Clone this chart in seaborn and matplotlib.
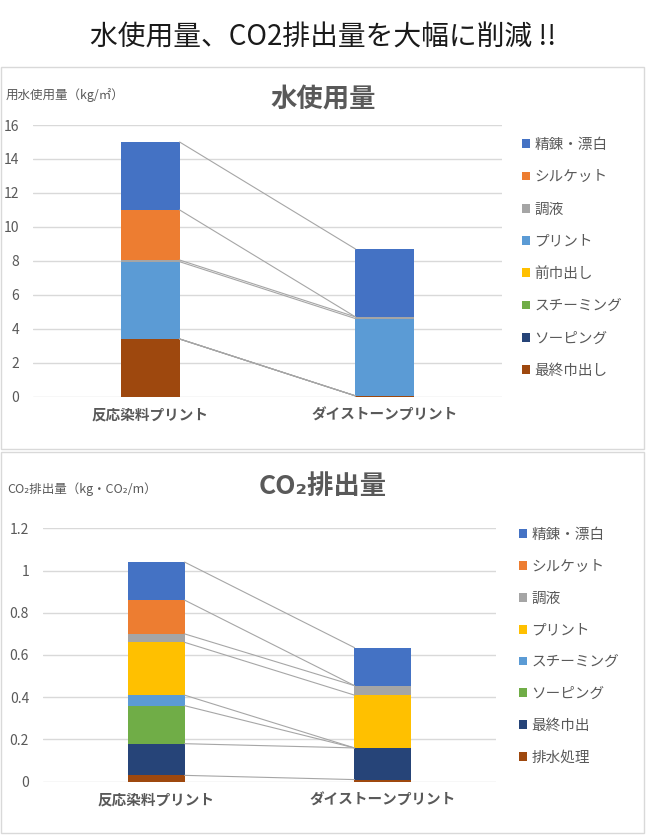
import numpy as np
import matplotlib
matplotlib.use("Agg")
import matplotlib.pyplot as plt
from matplotlib.patches import Rectangle, Patch
import seaborn as sns

# --- data (stack order: bottom -> top) ---
categories = ['反応染料プリント', 'ダイストーンプリント']

water_steps = ['最終巾出し', 'ソーピング', 'スチーミング', '前巾出し', 'プリント', '調液', 'シルケット', '精錬・漂白']
water_reactive = [3.4, 0, 0, 0, 4.55, 0.1, 2.95, 4.0]
water_dystone = [0.05, 0, 0, 0, 4.55, 0.1, 0, 4.0]
water_colors = ['#9e480e', '#264478', '#70ad47', '#ffc000', '#5b9bd5', '#a5a5a5', '#ed7d31', '#4472c4']

co2_steps = ['排水処理', '最終巾出', 'ソーピング', 'スチーミング', 'プリント', '調液', 'シルケット', '精錬・漂白']
co2_reactive = [0.03, 0.15, 0.18, 0.05, 0.25, 0.04, 0.16, 0.18]
co2_dystone = [0.01, 0.15, 0, 0, 0.25, 0.045, 0, 0.18]
co2_colors = ['#9e480e', '#264478', '#70ad47', '#5b9bd5', '#ffc000', '#a5a5a5', '#ed7d31', '#4472c4']

W, H = 646, 835
TXT = '#595959'

sns.set_theme(style='white')
plt.rcParams['font.family'] = ['Noto Sans CJK JP', 'DejaVu Sans']


def px(x, y):
    # pixel position (from top-left) -> figure fraction
    return x / W, 1 - y / H


def stacked(ax, steps, left, right, colors, yticks, ylim):
    cl = np.cumsum(left)
    cr = np.cumsum(right)
    # draw the cumulative layers top-down so lower layers sit in front
    for i in reversed(range(len(steps))):
        sns.barplot(x=categories, y=[cl[i], cr[i]], color=colors[i], width=0.25,
                    saturation=1, linewidth=0, ax=ax)
    # series lines between the two stacks
    for i in range(len(steps)):
        ax.plot([0.125, 0.875], [cl[i], cr[i]], color='#a6a6a6', lw=0.8, zorder=1)
    ax.set_xlim(-0.5, 1.5)
    ax.set_ylim(*ylim)
    ax.set_yticks(yticks)
    ax.set_yticklabels([f"{v:g}" for v in yticks])
    ax.set_axisbelow(True)
    ax.yaxis.grid(True, color='#d9d9d9', lw=1)
    for s in ax.spines.values():
        s.set_visible(False)
    ax.set_xlabel('')
    ax.set_ylabel('')
    ax.tick_params(axis='y', length=0, pad=10, labelsize=10, labelcolor=TXT)
    ax.tick_params(axis='x', length=0, pad=7, labelsize=10.5, labelcolor=TXT)
    for t in ax.get_xticklabels():
        t.set_fontweight('bold')


def legend(ax, steps, colors, x, y, spacing):
    handles = [Patch(facecolor=c, edgecolor='none') for c in colors[::-1]]
    leg = ax.legend(handles, steps[::-1], loc='upper left', bbox_to_anchor=px(x, y),
                    bbox_transform=fig.transFigure, frameon=False, fontsize=10.5,
                    handlelength=0.55, handleheight=0.55, handletextpad=0.3,
                    labelspacing=spacing, borderpad=0, borderaxespad=0)
    for t in leg.get_texts():
        t.set_color(TXT)


fig = plt.figure(figsize=(W / 100, H / 100), dpi=100)

# panel frames
for y0, y1 in [(67, 449), (452, 833)]:
    fig.patches.append(Rectangle(px(1, y1), 643 / W, (y1 - y0) / H, transform=fig.transFigure,
                                 fill=False, edgecolor='#d9d9d9', lw=1))

fig.text(*px(323, 38), '水使用量、CO2排出量を大幅に削減 !!', ha='center', va='center',
         fontsize=20, color='#1a1a1a')

# --- water usage ---
ax1 = fig.add_axes([33 / W, 1 - 396.7 / H, 469 / W, 271.7 / H])
stacked(ax1, water_steps, water_reactive, water_dystone, water_colors, np.arange(0, 17, 2), (0, 16))
legend(ax1, water_steps, water_colors, 522, 138, 1.25)
fig.text(*px(323, 100), '水使用量', ha='center', va='center', fontsize=19, fontweight='bold', color=TXT)
fig.text(*px(6, 95), '用水使用量（kg/㎡）', ha='left', va='center', fontsize=9, color=TXT)

# --- CO2 emission ---
ax2 = fig.add_axes([43 / W, 1 - 781.7 / H, 453 / W, 253.4 / H])
stacked(ax2, co2_steps, co2_reactive, co2_dystone, co2_colors, np.round(np.arange(0, 1.21, 0.2), 1), (0, 1.2))
legend(ax2, co2_steps, co2_colors, 519, 528, 1.22)
fig.text(*px(323, 487), 'CO₂排出量', ha='center', va='center', fontsize=19, fontweight='bold', color=TXT)
fig.text(*px(7, 489), 'CO₂排出量（kg・CO₂/m）', ha='left', va='center', fontsize=9, color=TXT)

fig.savefig('out.png', dpi=100)
